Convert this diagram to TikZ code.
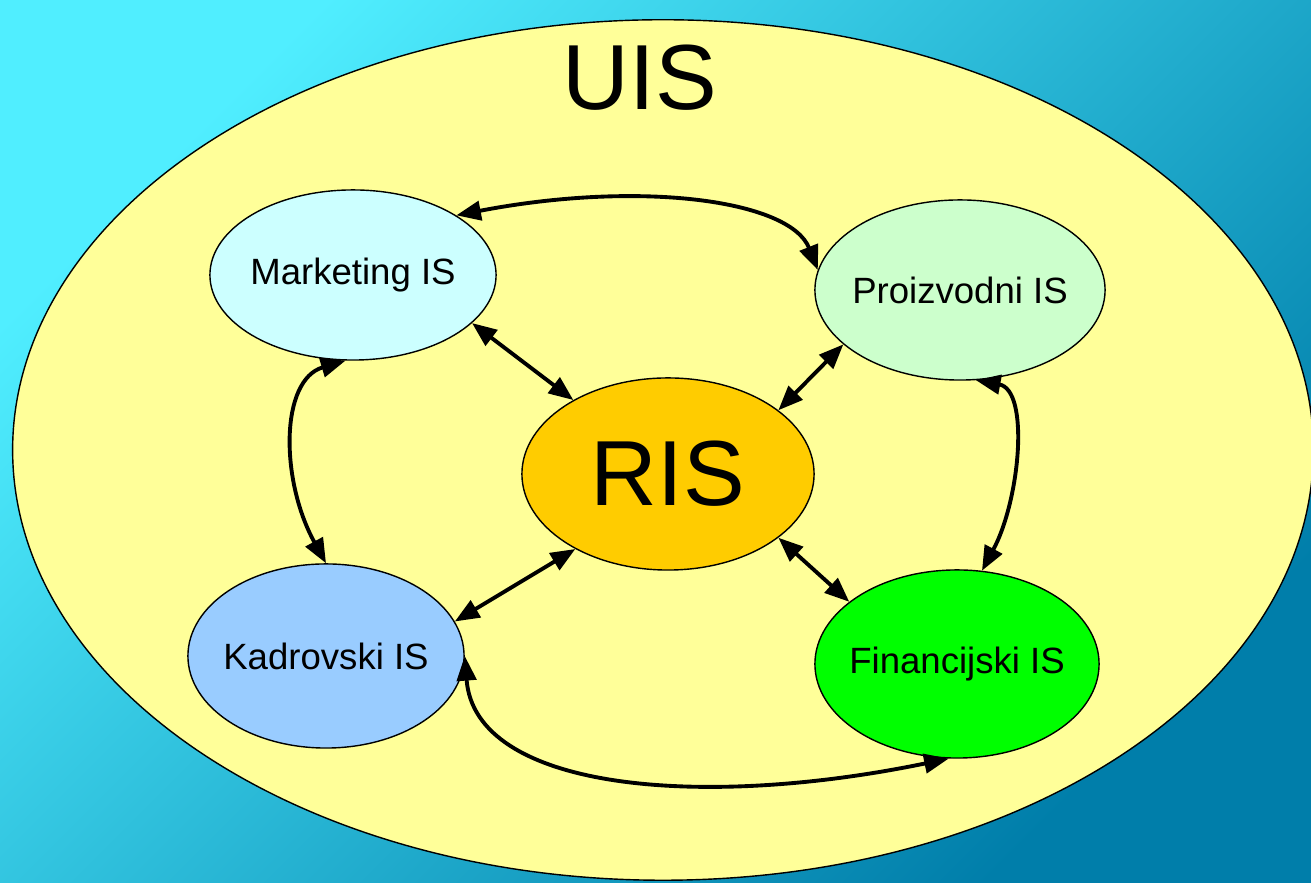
\documentclass[tikz,border=0pt]{standalone}
\usepackage{fontspec}
\setmainfont{Liberation Sans}
\usetikzlibrary{arrows.meta,shapes.geometric}
\definecolor{bgtop}{RGB}{80,238,255}
\definecolor{bgbottom}{RGB}{0,126,170}
\definecolor{uisyellow}{RGB}{255,255,153}
\definecolor{mktcyan}{RGB}{204,255,255}
\definecolor{przgreen}{RGB}{204,255,204}
\definecolor{risorange}{RGB}{255,204,0}
\definecolor{kadblue}{RGB}{153,204,255}
\definecolor{fingreen}{RGB}{0,255,0}

\begin{document}
\begin{tikzpicture}[x=0.01cm,y=-0.01cm,
  isnode/.style={ellipse,draw,inner xsep=-8pt,inner ysep=0pt,font=\fontsize{10.4}{12}\selectfont},
  link/.style={{Triangle[length=7pt,width=5.5pt]}-{Triangle[length=7pt,width=5.5pt]},line width=1.1pt}]
  \useasboundingbox (0,0) rectangle (1311,883);
  \clip (0,0) rectangle (1311,883);
  \shade[top color=bgtop,bottom color=bgbottom,shading angle=45] (0,0) rectangle (1311,883);
  % outer system
  \node[ellipse,draw,fill=uisyellow,minimum width=13cm,minimum height=8.6cm,inner sep=0pt] (uis) at (663,450){};
  \node[font=\fontsize{26.3}{30}\selectfont] (uisLabel) at (640,78){UIS};
  % subsystems
  \node[isnode,fill=mktcyan,minimum width=2.86cm,minimum height=1.7cm] (mkt) at (353,275){Marketing IS};
  \node[isnode,fill=przgreen,minimum width=2.9cm,minimum height=1.8cm] (prz) at (960,290){Proizvodni IS};
  \node[isnode,fill=risorange,minimum width=2.92cm,minimum height=1.92cm,font=\fontsize{26.3}{30}\selectfont] (ris) at (668,474){RIS};
  \node[isnode,fill=kadblue,minimum width=2.76cm,minimum height=1.84cm] (kad) at (326,656){Kadrovski IS};
  \node[isnode,fill=fingreen,minimum width=2.84cm,minimum height=1.88cm] (fin) at (957,664){Financijski IS};
  % links around
  \draw[link] (mkt.30) .. controls (640,180) and (790,200) .. (prz.172);
  \draw[link] (mkt.265) .. controls (280,380) and (280,480) .. (kad.90);
  \draw[link] (prz.280) .. controls (1030,390) and (1020,500) .. (fin.75);
  \draw[link] (kad.0) .. controls (475,790) and (700,810) .. (fin.265);
  % links to RIS
  \draw[link] (mkt.-22) -- (ris.142);
  \draw[link] (prz.205) -- (ris.30);
  \draw[link] (kad.15) -- (ris.219);
  \draw[link] (fin.150) -- (ris.-30);
\end{tikzpicture}
\end{document}
